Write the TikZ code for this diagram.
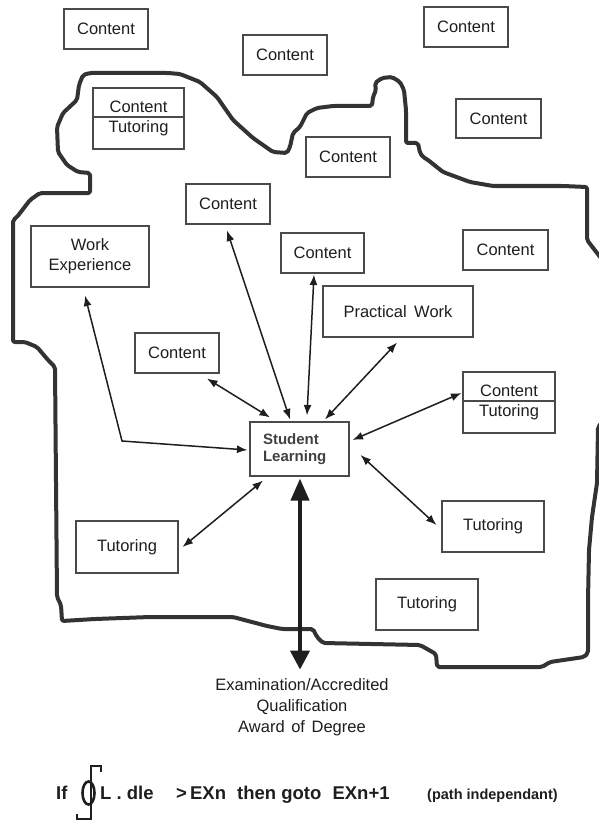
\documentclass[tikz,border=0pt]{standalone}
\usepackage{fontspec}
\setmainfont{Liberation Sans}
\usetikzlibrary{arrows.meta,calc}
\definecolor{ink}{HTML}{1E1E1E}
\definecolor{boxline}{HTML}{4A4A4A}
\definecolor{blobc}{HTML}{333333}
\begin{document}
\begin{tikzpicture}[x=1pt,y=-1pt,
  box/.style={draw=boxline, line width=1.1pt, text=ink, font=\fontsize{16.5}{20}\selectfont, inner sep=0pt, align=center},
  cbox/.style={box, minimum width=84pt, minimum height=40pt},
  tbox/.style={box, minimum width=102pt, minimum height=51pt},
  link/.style={draw=ink, line width=1.5pt, {Latex[length=10.5pt,width=8pt]}-{Latex[length=10.5pt,width=8pt]}},
  bigarrow/.style={draw=ink, line width=4pt, {Triangle[length=22pt,width=18pt]}-{Triangle[length=19pt,width=19pt]}},
  blobline/.style={draw=blobc, line width=4pt, rounded corners=2pt, line join=round},
  formula/.style={inner sep=0pt, text=ink, anchor=base west, font=\bfseries\fontsize{18.5}{20}\selectfont}
]
\useasboundingbox (0,0) rectangle (599,821);

% outline
\draw[blobline] (90,73) -- (168,73) -- (180,74) -- (200,82) -- (217,97) -- (233,120) -- (253,138)
 -- (273,152) -- (287,153) -- (290,147) -- (293,133) -- (300,127) -- (307,113) -- (317,108)
 -- (333,106) -- (372,106) -- (373,97) -- (376,90) -- (375,83) -- (382,78) -- (392,77) -- (400,82)
 -- (404,90) -- (406,110) -- (406,143) -- (418,143) -- (420,153) -- (423,157) -- (428,160)
 -- (443,172) -- (470,182) -- (493,186) -- (563,186) -- (587,187) -- (587,240) -- (604,262)
 -- (604,420) -- (598,427) -- (597,483) -- (592,517) -- (589,550) -- (588,600) -- (588,653)
 -- (584,657) -- (550,662) -- (542,667) -- (437,667) -- (436,654) -- (420,645)
 -- (323,643) -- (317,637) -- (313,629) -- (282,629) -- (267,626) -- (233,617) -- (150,617)
 -- (95,619) -- (62,621) -- (61,605) -- (57,597) -- (55,367) -- (48,360) -- (37,347) -- (25,342)
 -- (13,342) -- (13,220) -- (17,217) -- (30,200) -- (40,193) -- (90,193) -- (90,173) -- (78,172)
 -- (67,165) -- (58,152) -- (57,127) -- (63,113) -- (77,100) -- (79,85) -- (83,75) -- cycle;

% boxes
\node[cbox] (c1) at (106,29) {Content};
\node[cbox] (c2) at (285,55) {Content};
\node[cbox] (c3) at (466,27) {Content};
\node[box, minimum width=91pt, minimum height=61pt] (ct1) at (138.5,118.5) {Content\\Tutoring};
\draw[draw=boxline, line width=1.1pt] ([yshift=1.5pt]ct1.west) -- ([yshift=1.5pt]ct1.east);
\node[box, minimum width=85pt, minimum height=39pt] (c4) at (498.5,118.5) {Content};
\node[cbox] (c5) at (348,157) {Content};
\node[cbox] (c6) at (228,204) {Content};
\node[box, minimum width=118pt, minimum height=61pt] (we) at (90,256.5) {Work\\Experience};
\node[box, minimum width=83pt, minimum height=40pt] (c7) at (322.5,253) {Content};
\node[box, minimum width=85pt, minimum height=40pt] (c8) at (505.5,250) {Content};
\node[box, minimum width=150pt, minimum height=51pt] (pw) at (398,311.5) {Practical\hspace{0.45em}Work};
\node[cbox] (c9) at (177,353) {Content};
\node[box, minimum width=92pt, minimum height=61pt] (ct2) at (509,402.5) {Content\\Tutoring};
\draw[draw=boxline, line width=1.1pt] ([yshift=1.5pt]ct2.west) -- ([yshift=1.5pt]ct2.east);
\node[box, text=ink!85, font=\bfseries\fontsize{15}{17}\selectfont, minimum width=99pt, minimum height=54pt, text width=73pt, align=left] (sl) at (299.5,449) {Student\\Learning};
\node[tbox, minimum height=52pt] (t1) at (127,547) {Tutoring};
\node[tbox] (t2) at (493,526.5) {Tutoring};
\node[tbox] (t3) at (427,604.5) {Tutoring};

% exam text
\node[inner sep=0pt, align=center, text=ink, font=\fontsize{16.5}{21}\selectfont] (exam) at (302,707.5)
 {Examination/Accredited\\Qualification\\Award\hspace{0.4em}of\hspace{0.4em}Degree};

% connectors
\draw[link] ([xshift=-1pt,yshift=-6pt]c6.south) -- ([xshift=-9.5pt,yshift=2pt]sl.north);
\draw[link] ([xshift=-8.5pt,yshift=-1pt]c7.south) -- ([xshift=7.5pt,yshift=6pt]sl.north);
\draw[link] ([xshift=-1pt,yshift=-5pt]pw.south) -- ([xshift=25.5pt,yshift=2pt]sl.north);
\draw[link] ([xshift=-1pt,yshift=9.5pt]ct2.west) -- ([xshift=3pt,yshift=9pt]sl.east);
\draw[link] ([xshift=11pt,yshift=-6pt]sl.east) -- ([xshift=-5pt,yshift=1.5pt]t2.west);
\draw[link] ([xshift=4pt]t1.east) -- ([xshift=-36.5pt,yshift=-4pt]sl.south);
\draw[link] ([xshift=30pt,yshift=-5pt]c9.south) -- ([xshift=-29.5pt,yshift=4pt]sl.north);
\coordinate (webend) at (122,441);
\draw[link] ([xshift=-5pt,yshift=-8pt]we.south) -- (webend) -- ([xshift=-2pt,yshift=-1pt]sl.west);
\draw[bigarrow] ([xshift=0.5pt,yshift=-2pt]sl.south) -- ([xshift=-2pt,yshift=9pt]exam.north);

% formula
\node[formula] (fif) at (56,799) {If};
\draw[draw=ink, line width=2.6pt] (101,772) -- (101,766) -- (91,766) -- (91,819) -- (77,819) -- (77,814);
\draw[draw=ink, line width=2.6pt] (88.5,793) ellipse [x radius=6, y radius=11.5];
\node[formula] (fl) at (100,799) {L . dle};
\node[formula] (fc) at (176,799) {>\,EXn\hspace{0.6em}then goto\hspace{0.6em}EXn+1};
\node[formula, font=\bfseries\fontsize{14.5}{16}\selectfont] (fp) at (427,799) {(path independant)};
\end{tikzpicture}
\end{document}
